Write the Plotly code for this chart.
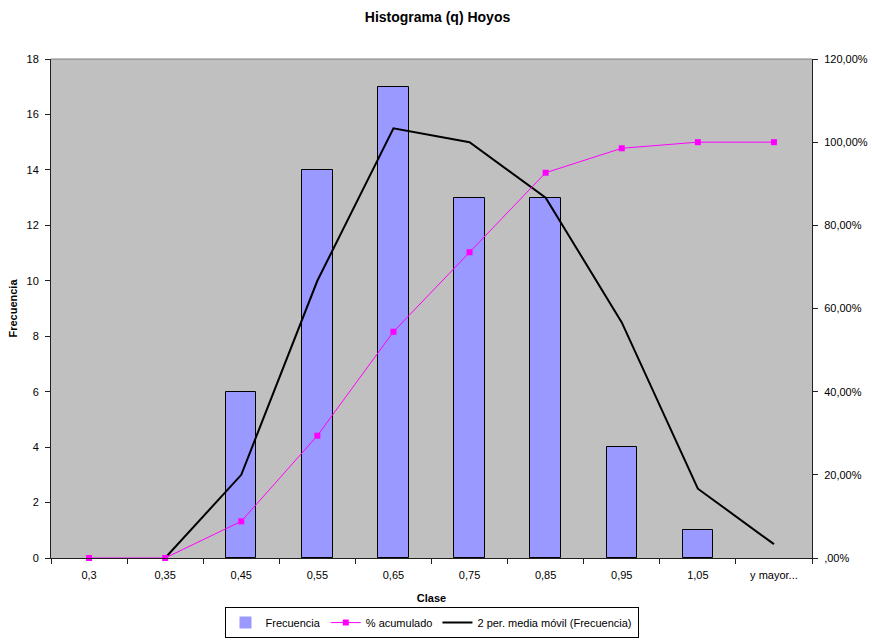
import plotly.graph_objects as go

categories = ["0,3", "0,35", "0,45", "0,55", "0,65", "0,75", "0,85", "0,95", "1,05", "y mayor..."]
frecuencia = [0, 0, 6, 14, 17, 13, 13, 4, 1, 0]
pct_acumulado = [0.0, 0.0, 0.0882, 0.2941, 0.5441, 0.7353, 0.9265, 0.9853, 1.0, 1.0]
media_movil = [0, 3, 10, 15.5, 15, 13, 8.5, 2.5, 0.5]
media_movil_cats = categories[1:]

y_ticks = [0, 2, 4, 6, 8, 10, 12, 14, 16, 18]
y2_ticks = [0, 0.2, 0.4, 0.6, 0.8, 1.0, 1.2]
y2_labels = [",00%", "20,00%", "40,00%", "60,00%", "80,00%", "100,00%", "120,00%"]

FONT = "Liberation Sans, Arial, sans-serif"
AXIS = "#202020"

fig = go.Figure()
fig.add_trace(go.Bar(
    x=categories, y=frecuencia, name="Frecuencia",
    marker=dict(color="#9999FF",
                line=dict(color="#000000", width=[0 if v == 0 else 1 for v in frecuencia])),
    width=0.4,
))
fig.add_trace(go.Scatter(
    x=categories, y=pct_acumulado, name="% acumulado", yaxis="y2",
    mode="lines+markers", cliponaxis=False,
    line=dict(color="#FF00FF", width=1),
    marker=dict(symbol="square", size=6, color="#FF00FF"),
))
fig.add_trace(go.Scatter(
    x=media_movil_cats, y=media_movil, name="2 per. media móvil (Frecuencia)",
    mode="lines", line=dict(color="#000000", width=2),
))

fig.update_layout(
    width=872, height=640,
    margin=dict(l=51, r=60, t=59, b=82),
    paper_bgcolor="white",
    plot_bgcolor="#C0C0C0",
    font=dict(family=FONT, size=11, color="#000000"),
    title=dict(text="<b>Histograma (q) Hoyos</b>", x=437.5 / 872, xanchor="center",
               y=1 - 17 / 640, yanchor="middle", font=dict(size=14)),
    bargap=0,
    showlegend=True,
    legend=dict(orientation="h", x=0.5, xanchor="center",
                yref="container", y=0.003, yanchor="bottom",
                bordercolor="#000000", borderwidth=1, font=dict(size=11),
                traceorder="normal", itemwidth=30),
    xaxis=dict(
        type="category", range=[-0.5, 9.5], automargin=False,
        showline=True, linecolor=AXIS, linewidth=1,
        ticks="outside", ticklen=5, tickcolor=AXIS, tickson="boundaries",
        ticklabelstandoff=7,
        showgrid=False, zeroline=False,
        title=dict(text="<b>Clase</b>", standoff=14, font=dict(size=11)),
    ),
    yaxis=dict(
        range=[0, 18], tickvals=y_ticks, automargin=False,
        showline=True, linecolor=AXIS, linewidth=1,
        ticks="outside", ticklen=5, tickcolor=AXIS,
        ticklabelstandoff=4,
        showgrid=False, zeroline=False,
        title=dict(text="<b>Frecuencia</b>", standoff=6, font=dict(size=11)),
    ),
    yaxis2=dict(
        overlaying="y", side="right", range=[0, 1.2], automargin=False,
        tickvals=y2_ticks, ticktext=y2_labels,
        showline=True, linecolor=AXIS, linewidth=1,
        ticks="outside", ticklen=5, tickcolor=AXIS,
        ticklabelstandoff=4,
        showgrid=False, zeroline=False,
    ),
)

fig.add_shape(type="line", xref="paper", yref="paper", x0=0, x1=1, y0=1, y1=1,
              line=dict(color="#808080", width=1), layer="above")

fig.write_html("out.html", config={"displayModeBar": False},
               post_script="document.body.style.margin='0';document.body.style.overflow='hidden';")
